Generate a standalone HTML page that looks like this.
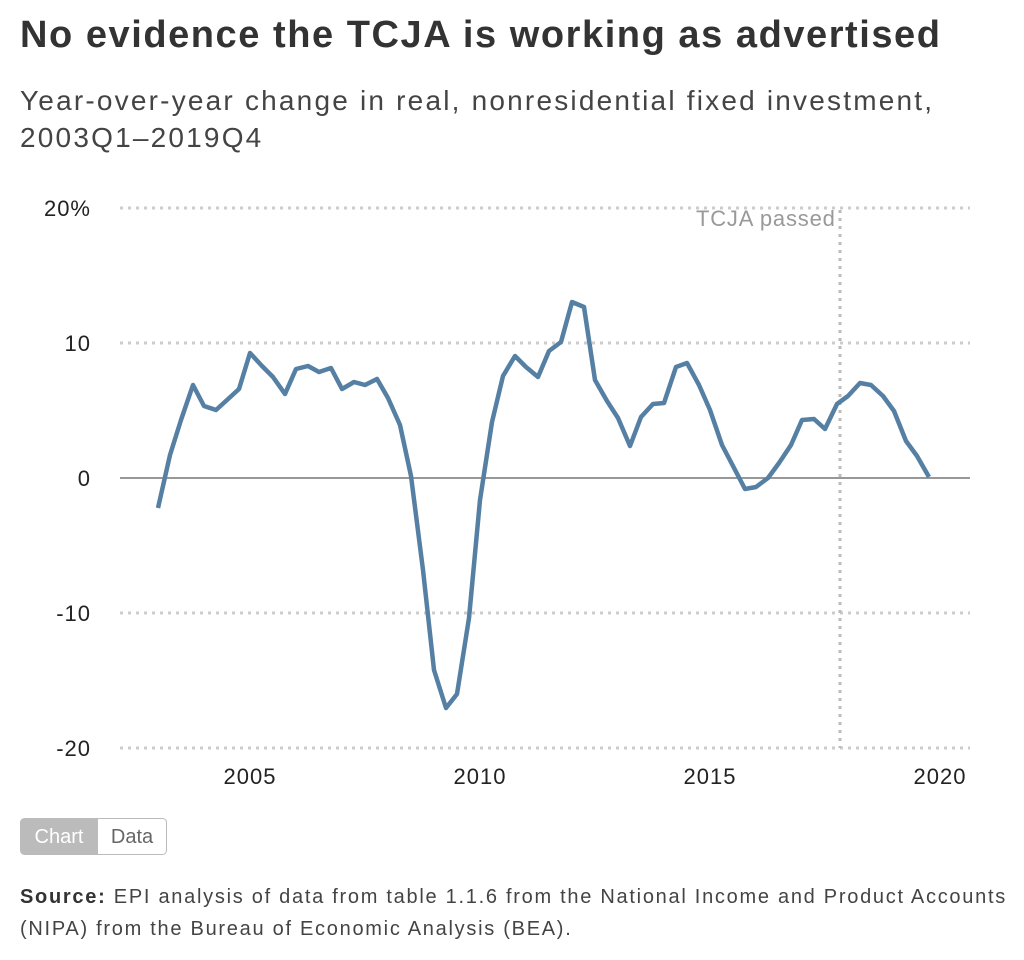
<!DOCTYPE html>
<html><head><meta charset="utf-8"><style>
body{margin:0;width:1024px;height:960px;background:#fff;font-family:"Liberation Sans",sans-serif;color:#333;overflow:hidden}
.t{position:absolute;left:20px;top:14px;font-size:38px;font-weight:bold;color:#333;letter-spacing:1.55px;white-space:nowrap}
.s{position:absolute;left:20px;top:82px;font-size:28px;line-height:37px;color:#444;letter-spacing:2.2px;white-space:nowrap}
.src{position:absolute;left:20px;top:881px;font-size:20px;line-height:32px;color:#444;letter-spacing:1.72px;white-space:nowrap}
</style></head><body>
<div class="t">No evidence the TCJA is working as advertised</div>
<div class="s">Year-over-year change in real, nonresidential fixed investment,<br>2003Q1–2019Q4</div>
<svg style="position:absolute;left:0;top:0" width="1024" height="960">
<g stroke="#ccc" stroke-width="3" stroke-dasharray="3,5">
<line x1="120" x2="970" y1="208" y2="208"/><line x1="120" x2="970" y1="343" y2="343"/>
<line x1="120" x2="970" y1="613" y2="613"/><line x1="120" x2="970" y1="748" y2="748"/>
</g>
<line x1="120" x2="970" y1="478" y2="478" stroke="#777" stroke-width="1.5"/>
<line x1="840" x2="840" y1="210" y2="748" stroke="#bbb" stroke-width="3" stroke-dasharray="3,5"/>
<text x="696" y="226" font-size="22" fill="#999" letter-spacing="0.8">TCJA passed</text>
<g font-size="22" fill="#222" text-anchor="end" letter-spacing="1">
<text x="91" y="216">20%</text><text x="91" y="351">10</text><text x="91" y="486">0</text><text x="91" y="621">-10</text><text x="91" y="756">-20</text>
</g>
<g font-size="22" fill="#222" text-anchor="middle" letter-spacing="1">
<text x="250" y="784">2005</text><text x="480" y="784">2010</text><text x="710" y="784">2015</text><text x="940" y="784">2020</text>
</g>
<polyline fill="none" stroke="#5580a3" stroke-width="4.5" stroke-linejoin="round" points="158,508 170,455 181,420 193,385 204,406 216,410 227,400 239,389 250,353 262,366 273,377 285,394 296,369 308,366 319,372 331,368 342,389 354,382 365,385 377,379 388,398 400,425 411,476 423,570 434,670 446,708 457,694 469,618 480,500 492,422 503,376 515,356 526,367 538,377 549,351 561,342 572,302 584,307 595,380 607,401 618,418 630,446 641,417 653,404 664,403 676,367 687,363 699,385 710,410 722,445 733,466 745,489 756,487 768,478 779,463 791,445 802,420 814,419 825,429 837,404 848,396 860,383 871,385 883,396 894,411 906,441 917,456 929,477"/>
<rect x="20.5" y="818.5" width="146" height="36" rx="4" fill="#fff" stroke="#bbb"/>
<path d="M24.5,818.5 H98 V854.5 H24.5 A4,4 0 0 1 20.5,850.5 V822.5 A4,4 0 0 1 24.5,818.5Z" fill="#bbb"/>
<text x="59" y="843" font-size="20" fill="#fff" text-anchor="middle">Chart</text>
<text x="132" y="843" font-size="20" fill="#666" text-anchor="middle">Data</text>
</svg>
<div class="src"><b style="color:#333">Source:</b> EPI analysis of data from table 1.1.6 from the National Income and Product Accounts<br>(NIPA) from the Bureau of Economic Analysis (BEA).</div>
</body></html>
